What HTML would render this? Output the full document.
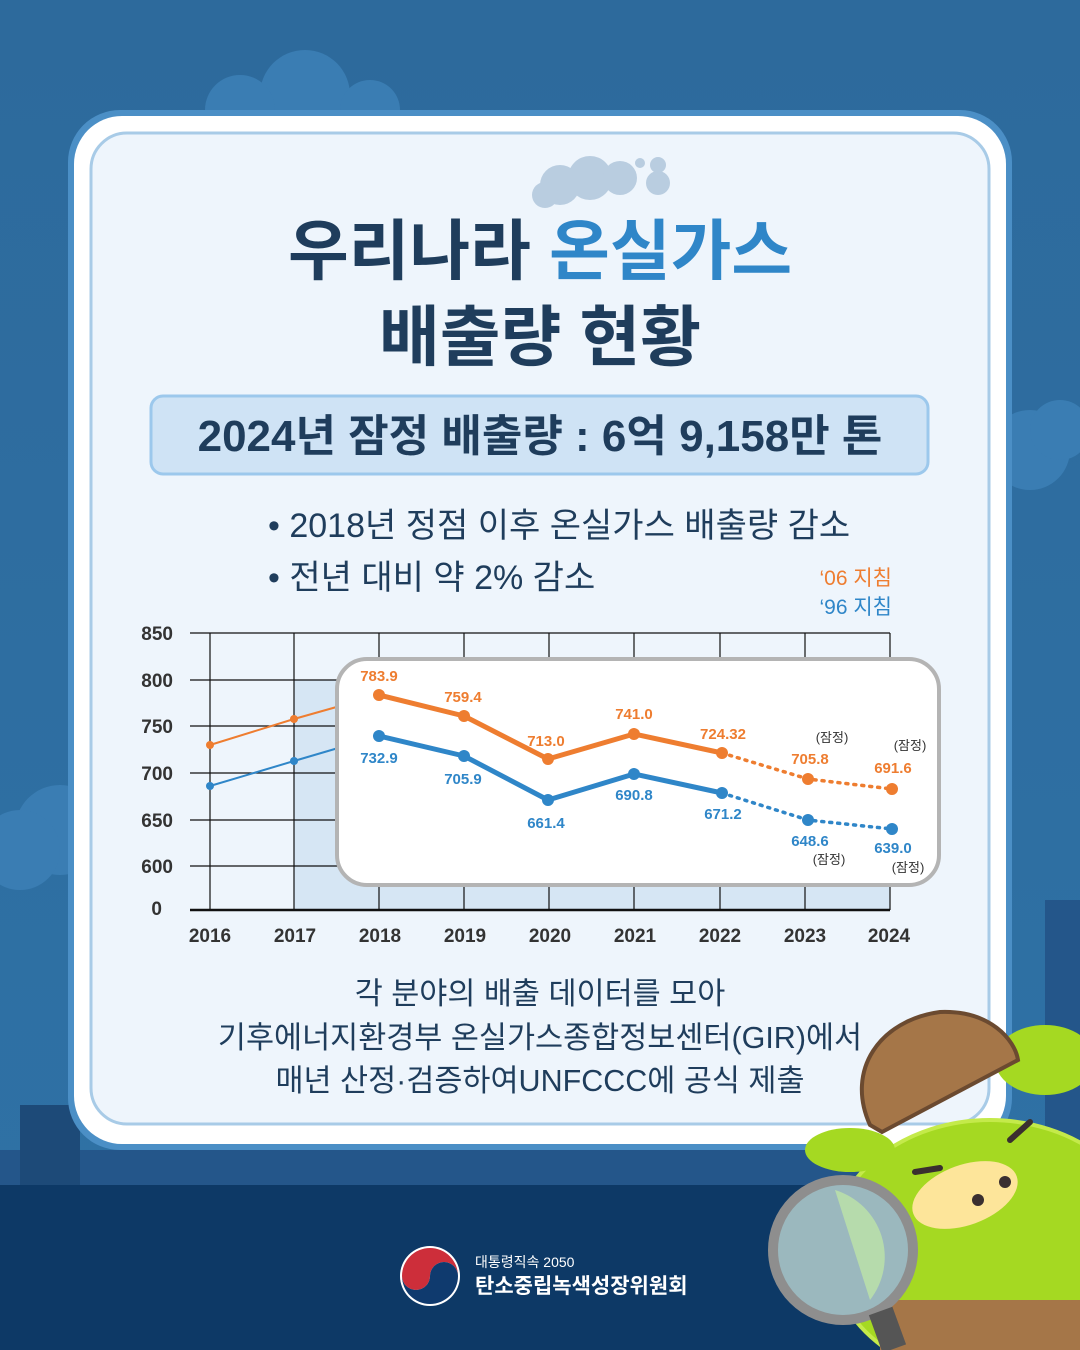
<!DOCTYPE html>
<html><head><meta charset="utf-8"><style>
html,body{margin:0;padding:0;width:1080px;height:1350px;overflow:hidden}
svg{display:block}
text{font-family:"Liberation Sans","Noto Sans CJK KR",sans-serif}
</style></head><body>
<svg width="1080" height="1350" viewBox="0 0 1080 1350" xmlns="http://www.w3.org/2000/svg">
<defs>
<linearGradient id="bg" x1="0" y1="0" x2="0" y2="1">
<stop offset="0" stop-color="#2d6a9c"/><stop offset="1" stop-color="#2f72a6"/></linearGradient>
</defs>
<rect width="1080" height="1350" fill="url(#bg)"/>
<g fill="#3a7db3">
<circle cx="305" cy="95" r="45"/><circle cx="240" cy="110" r="35"/><circle cx="370" cy="110" r="30"/>
<circle cx="1030" cy="450" r="40"/><circle cx="1060" cy="430" r="30"/>
<circle cx="60" cy="830" r="45"/><circle cx="20" cy="850" r="40"/>
</g>
<rect x="0" y="1150" width="1080" height="40" fill="#24568a"/>
<rect x="1045" y="900" width="35" height="290" fill="#24568a"/>
<rect x="0" y="1185" width="1080" height="165" fill="#0d3966"/>
<rect x="20" y="1105" width="60" height="80" fill="#1d4a78"/>
<rect x="68" y="110" width="944" height="1040" rx="52" fill="#4b8fc6"/>
<rect x="74" y="116" width="932" height="1028" rx="48" fill="#ffffff"/>
<rect x="91" y="133" width="898" height="991" rx="36" fill="#eef5fc" stroke="#a8cbe7" stroke-width="3"/>
<g fill="#b9cde0"><circle cx="560" cy="185" r="20"/><circle cx="590" cy="178" r="22"/><circle cx="620" cy="178" r="17"/><circle cx="545" cy="195" r="13"/><circle cx="658" cy="183" r="12"/><circle cx="658" cy="165" r="8"/><circle cx="640" cy="163" r="5"/></g>
<text x="540" y="274" text-anchor="middle" font-size="66" font-weight="bold" fill="#1f3d5c">우리나라 <tspan fill="#2f86c8">온실가스</tspan></text>
<text x="540" y="360" text-anchor="middle" font-size="66" font-weight="bold" fill="#1f3d5c">배출량 현황</text>
<rect x="151" y="396" width="777" height="78" rx="12" fill="#cfe3f5" stroke="#9cc8ec" stroke-width="3"/>
<text x="540" y="451" text-anchor="middle" font-size="44" font-weight="bold" fill="#1f3d5c">2024년 잠정 배출량 : 6억 9,158만 톤</text>
<text x="268" y="537" font-size="34" fill="#1f3d5c">• 2018년 정점 이후 온실가스 배출량 감소</text>
<text x="268" y="589" font-size="34" fill="#1f3d5c">• 전년 대비 약 2% 감소</text>
<text x="892" y="585" text-anchor="end" font-size="21" fill="#ee7d30">‘06 지침</text>
<text x="892" y="614" text-anchor="end" font-size="21" fill="#2f86c8">‘96 지침</text>
<rect x="294" y="680" width="596" height="230" fill="#d6e6f4"/>
<g stroke="#111" stroke-width="1.2">
<line x1="190" y1="633" x2="890" y2="633"/><line x1="190" y1="680" x2="890" y2="680"/>
<line x1="190" y1="726" x2="890" y2="726"/><line x1="190" y1="773" x2="890" y2="773"/>
<line x1="190" y1="820" x2="890" y2="820"/><line x1="190" y1="866" x2="890" y2="866"/>
<line x1="210" y1="633" x2="210" y2="910"/><line x1="294" y1="633" x2="294" y2="910"/>
<line x1="379" y1="633" x2="379" y2="910"/><line x1="464" y1="633" x2="464" y2="910"/>
<line x1="549" y1="633" x2="549" y2="910"/><line x1="634" y1="633" x2="634" y2="910"/>
<line x1="720" y1="633" x2="720" y2="910"/><line x1="805" y1="633" x2="805" y2="910"/>
<line x1="890" y1="633" x2="890" y2="910"/>
</g>
<line x1="190" y1="910" x2="890" y2="910" stroke="#111" stroke-width="2.5"/>
<g font-size="19" font-weight="bold" fill="#333" text-anchor="end">
<text x="173" y="640">850</text><text x="173" y="687">800</text><text x="173" y="733">750</text>
<text x="173" y="780">700</text><text x="173" y="827">650</text><text x="173" y="873">600</text><text x="162" y="915">0</text>
</g>
<g font-size="19" font-weight="bold" fill="#333" text-anchor="middle">
<text x="210" y="942">2016</text><text x="295" y="942">2017</text><text x="380" y="942">2018</text>
<text x="465" y="942">2019</text><text x="550" y="942">2020</text><text x="635" y="942">2021</text>
<text x="720" y="942">2022</text><text x="805" y="942">2023</text><text x="889" y="942">2024</text>
</g>
<polyline points="210,745 294,719 379,695" fill="none" stroke="#ee7d30" stroke-width="2"/>
<polyline points="210,786 294,761 379,736" fill="none" stroke="#2f86c8" stroke-width="2"/>
<circle cx="210" cy="745" r="4" fill="#ee7d30"/><circle cx="294" cy="719" r="4" fill="#ee7d30"/>
<circle cx="210" cy="786" r="4" fill="#2f86c8"/><circle cx="294" cy="761" r="4" fill="#2f86c8"/>
<rect x="337" y="659" width="602" height="226" rx="30" fill="#fff" stroke="#b4b4b4" stroke-width="4"/>
<polyline points="379,695 464,716 548,759 634,734 722,753" fill="none" stroke="#ee7d30" stroke-width="5" stroke-linejoin="round"/>
<polyline points="722,753 808,779 892,789" fill="none" stroke="#ee7d30" stroke-width="3.5" stroke-dasharray="2 6" stroke-linecap="round"/>
<polyline points="379,736 464,756 548,800 634,774 722,793" fill="none" stroke="#2f86c8" stroke-width="5" stroke-linejoin="round"/>
<polyline points="722,793 808,820 892,829" fill="none" stroke="#2f86c8" stroke-width="3.5" stroke-dasharray="2 6" stroke-linecap="round"/>
<g fill="#ee7d30"><circle cx="379" cy="695" r="6"/><circle cx="464" cy="716" r="6"/><circle cx="548" cy="759" r="6"/><circle cx="634" cy="734" r="6"/><circle cx="722" cy="753" r="6"/><circle cx="808" cy="779" r="6"/><circle cx="892" cy="789" r="6"/></g>
<g fill="#2f86c8"><circle cx="379" cy="736" r="6"/><circle cx="464" cy="756" r="6"/><circle cx="548" cy="800" r="6"/><circle cx="634" cy="774" r="6"/><circle cx="722" cy="793" r="6"/><circle cx="808" cy="820" r="6"/><circle cx="892" cy="829" r="6"/></g>
<g font-size="15" font-weight="bold" text-anchor="middle" fill="#ee7d30">
<text x="379" y="681">783.9</text><text x="463" y="702">759.4</text><text x="546" y="746">713.0</text>
<text x="634" y="719">741.0</text><text x="723" y="739">724.32</text><text x="810" y="764">705.8</text><text x="893" y="773">691.6</text>
</g>
<g font-size="15" font-weight="bold" text-anchor="middle" fill="#2f86c8">
<text x="379" y="763">732.9</text><text x="463" y="784">705.9</text><text x="546" y="828">661.4</text>
<text x="634" y="800">690.8</text><text x="723" y="819">671.2</text><text x="810" y="846">648.6</text><text x="893" y="853">639.0</text>
</g>
<g font-size="13" text-anchor="middle" fill="#333">
<text x="832" y="742">(잠정)</text><text x="910" y="750">(잠정)</text>
<text x="829" y="864">(잠정)</text><text x="908" y="872">(잠정)</text>
</g>
<g font-size="30.5" fill="#1f3d5c" text-anchor="middle">
<text x="540" y="1004">각 분야의 배출 데이터를 모아</text>
<text x="540" y="1048">기후에너지환경부 온실가스종합정보센터(GIR)에서</text>
<text x="540" y="1091">매년 산정·검증하여UNFCCC에 공식 제출</text>
</g>
<g>
<ellipse cx="990" cy="1250" rx="160" ry="130" fill="#a5d922" stroke="#c4ea4a" stroke-width="4"/>
<ellipse cx="850" cy="1150" rx="45" ry="22" fill="#a5d922"/>
<ellipse cx="1045" cy="1060" rx="50" ry="35" fill="#a5d922"/>
<path d="M870,1125 C845,1070 880,1020 940,1012 C990,1010 1015,1040 1018,1060 L882,1132 Z" fill="#a57648" stroke="#6b4a30" stroke-width="4"/>
<ellipse cx="965" cy="1195" rx="55" ry="30" fill="#fde59a" transform="rotate(-20 965 1195)"/>
<circle cx="978" cy="1200" r="6" fill="#3a2f2f"/><circle cx="1005" cy="1182" r="6" fill="#3a2f2f"/>
<path d="M915,1172 L940,1168" stroke="#3a2f2f" stroke-width="6" stroke-linecap="round"/>
<path d="M1010,1140 L1030,1122" stroke="#3a2f2f" stroke-width="6" stroke-linecap="round"/>
<rect x="880" y="1300" width="200" height="50" fill="#a57648"/>
<circle cx="843" cy="1250" r="70" fill="#9bb8be" stroke="#8e8e8e" stroke-width="10"/>
<path d="M835,1190 A70,70 0 0 1 870,1300 Z" fill="#bde3a8" opacity="0.8"/>
<rect x="875" y="1310" width="25" height="40" fill="#555" transform="rotate(-20 887 1330)"/>
</g>
<circle cx="430" cy="1276" r="30" fill="#fff"/>
<path d="M402,1276 A28,28 0 0 1 458,1276 A14,14 0 0 0 430,1276 A14,14 0 0 1 402,1276 Z" fill="#cd2e3a"/>
<path d="M402,1276 A14,14 0 0 0 430,1276 A14,14 0 0 1 458,1276 A28,28 0 0 1 402,1276 Z" fill="#0f3a6e"/>
<text x="475" y="1267" font-size="14" fill="#fff">대통령직속 2050</text>
<text x="475" y="1293" font-size="21" font-weight="bold" fill="#fff">탄소중립녹색성장위원회</text>
</svg>
</body></html>
